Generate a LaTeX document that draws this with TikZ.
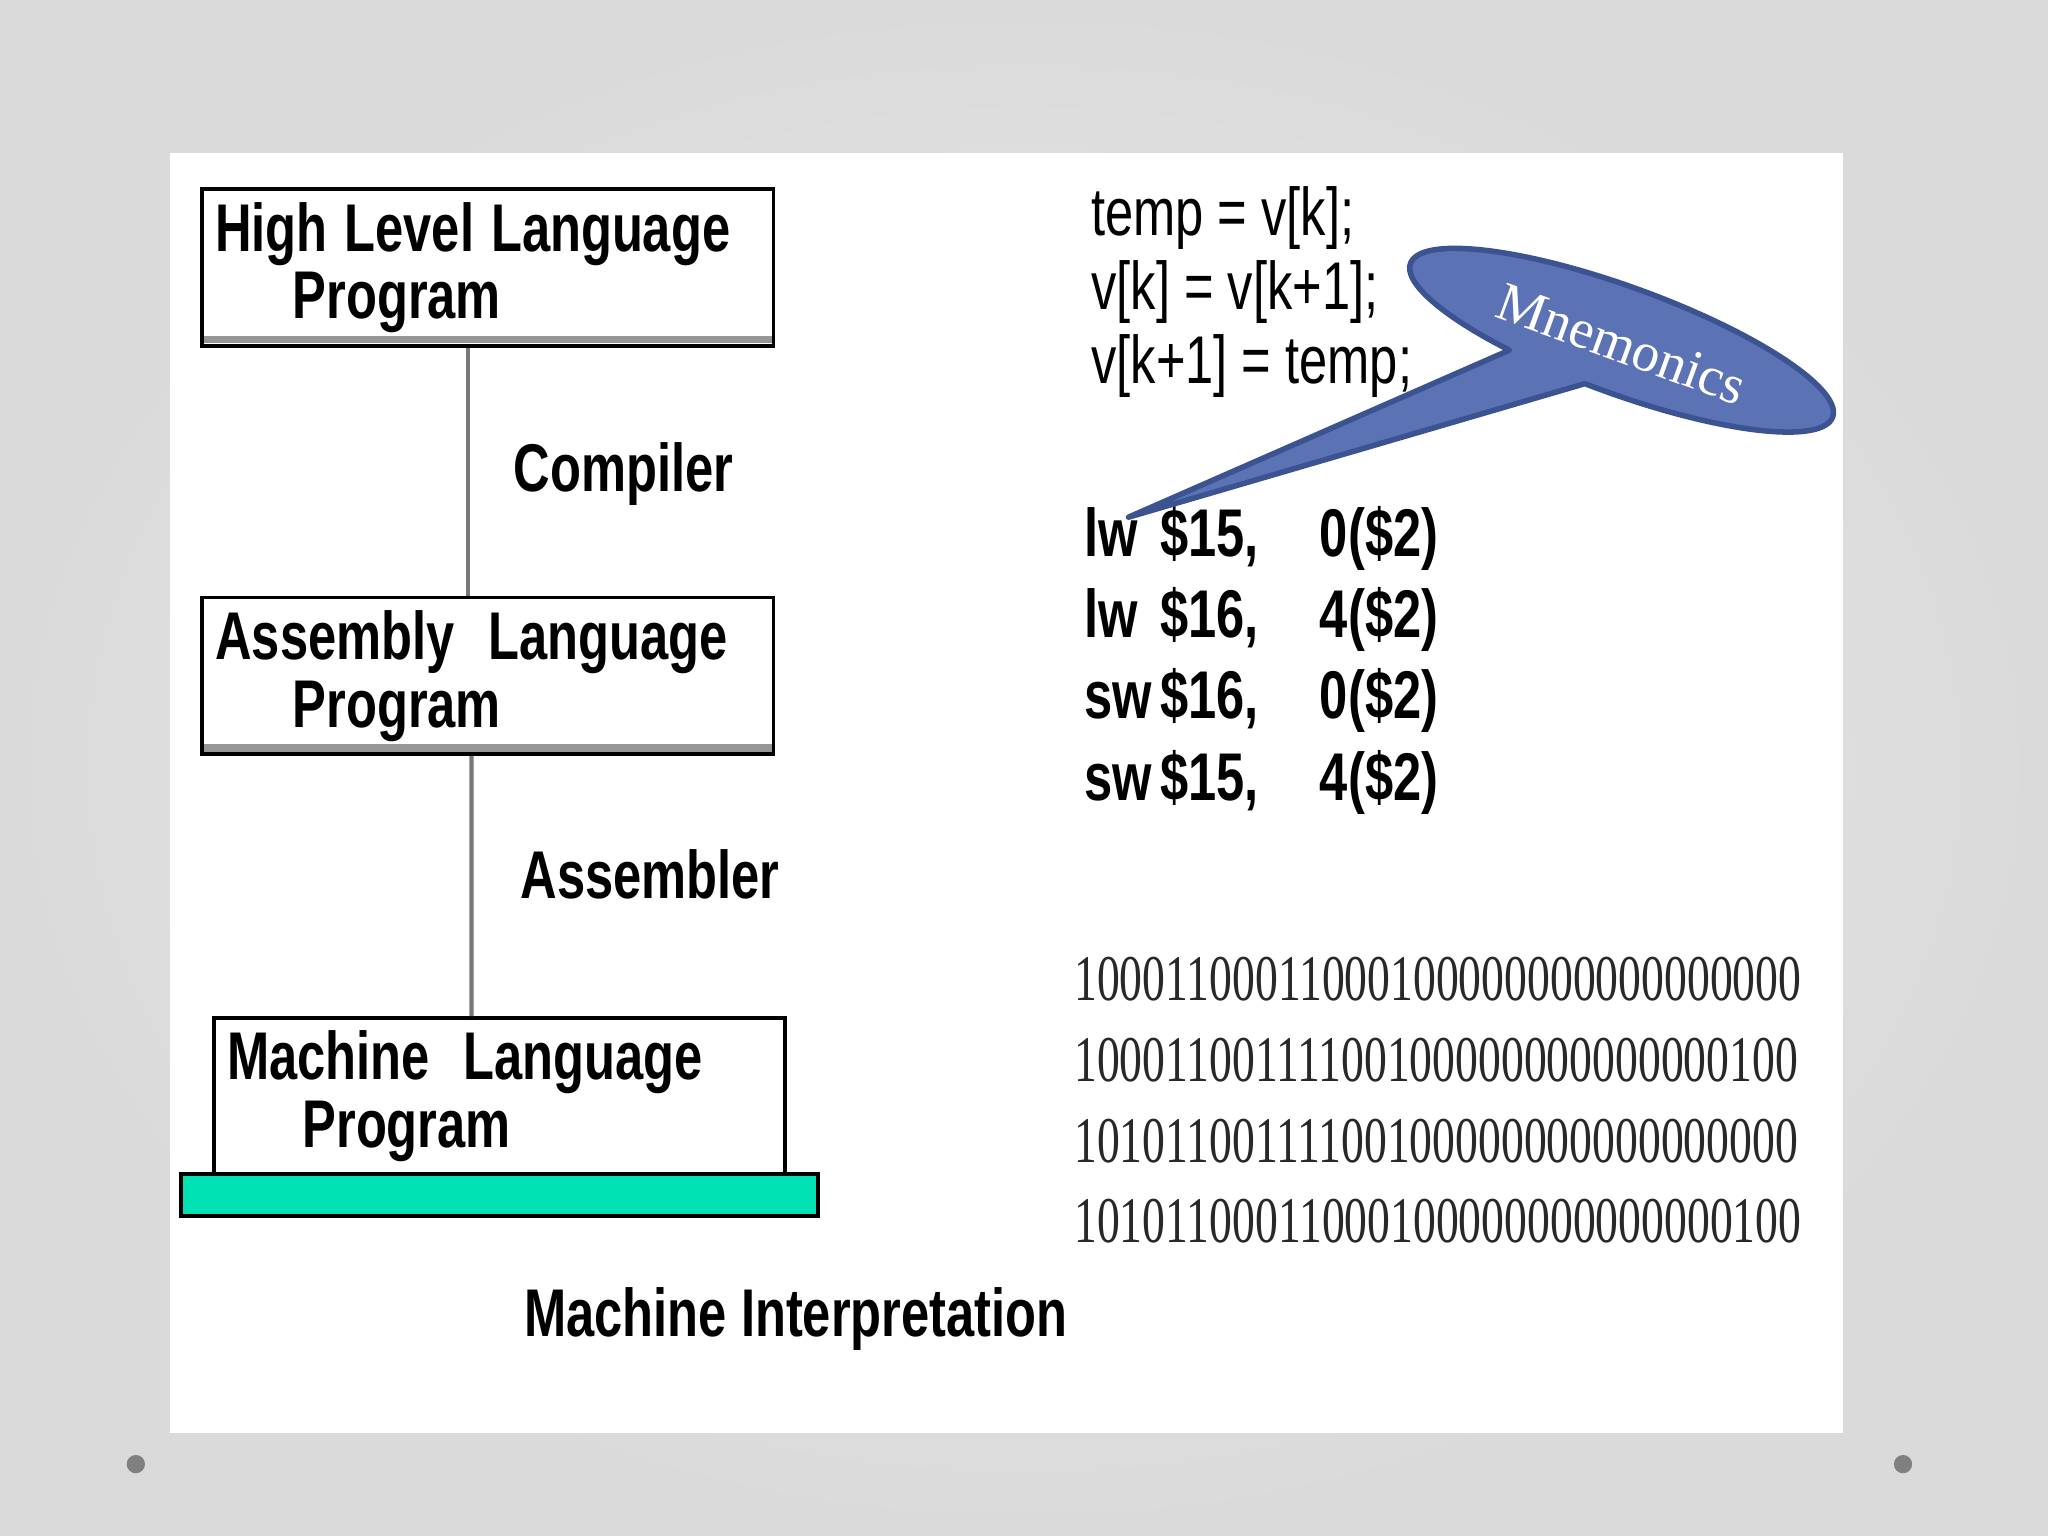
\documentclass[tikz,border=0pt]{standalone}
\usepackage{fontspec}
\setmainfont{Liberation Sans}
\newfontfamily\serifface{Liberation Serif}
\definecolor{slidelight}{RGB}{236,236,236}
\definecolor{slidedark}{RGB}{218,218,218}
\definecolor{dotgray}{RGB}{128,128,128}
\definecolor{linkgray}{RGB}{120,120,120}
\definecolor{shadegray}{RGB}{150,150,150}
\definecolor{termgreen}{RGB}{0,226,180}
\definecolor{bubblefill}{RGB}{91,115,181}
\definecolor{bubbleline}{RGB}{60,83,145}
\definecolor{bindark}{RGB}{40,40,40}
\usetikzlibrary{positioning}

\begin{document}
\begin{tikzpicture}[x=0.01cm, y=0.01cm,
    progbox/.style={draw=black, line width=0.8pt, fill=white, xscale=0.75,
        minimum width=5.83cm, minimum height=1.2cm, text width=5.56cm,
        inner xsep=0.133cm, inner ysep=0pt, align=left,
        font=\fontsize{14.7}{14.75}\selectfont\bfseries},
    shadedbox/.style={progbox,
        path picture={\draw[shadegray, line width=1.6pt]
            ([yshift=1.4pt]path picture bounding box.south west) --
            ([yshift=1.4pt]path picture bounding box.south east);}},
    termbar/.style={draw=black, line width=0.9pt, fill=termgreen,
        minimum width=4.87cm, minimum height=0.32cm, inner sep=0pt},
    link/.style={draw=linkgray, line width=0.9pt},
    tag/.style={font=\fontsize{14.7}{14.75}\selectfont\bfseries, xscale=0.75,
        inner sep=0pt, anchor=base west},
    hlcode/.style={font=\fontsize{14.7}{14.75}\selectfont, xscale=0.75,
        inner sep=0pt, anchor=base west},
    asmcode/.style={hlcode, font=\fontsize{14.7}{14.75}\selectfont\bfseries},
    bincode/.style={font=\serifface\fontsize{14.2}{15}\selectfont, text=bindark,
        xscale=0.70, inner sep=0pt, anchor=base west},
    bubble/.style={fill=bubblefill, draw=bubbleline, line width=1.2pt, line join=round},
    bubbletext/.style={font=\serifface\fontsize{12}{14}\selectfont, text=white, inner sep=0pt}]

    \useasboundingbox (0,0) rectangle (1568,1176);
    \shade[inner color=slidelight, outer color=slidedark] (0,0) rectangle (1568,1176);
    \fill[white] (130,79) rectangle (1411,1059);
    \fill[dotgray] (104,55) circle[radius=7];
    \fill[dotgray] (1457,55) circle[radius=7];

    \node[shadedbox] (hll) at (373.5,971) {High Level Language\\\hspace*{0.79cm}Program};
    \node[shadedbox] (asm) at (373.5,658.5) {Assembly\ \ Language\\\hspace*{0.79cm}Program};
    \node[progbox] (mlp) at (382.5,336.5) {Machine\ \ Language\\\hspace*{0.77cm}Program};
    \node[termbar, below=-1pt of mlp] (bar) {};

    \draw[link] ([xshift=-0.155cm]hll.south) -- ([xshift=-0.155cm]asm.north);
    \draw[link] ([xshift=-0.125cm]asm.south) -- ([xshift=-0.215cm]mlp.north);

    \node[tag] (compiler) at (393,800) {Compiler};
    \node[tag] (assembler) at (398,488) {Assembler};
    \node[tag] (interp) at (401,153) {Machine Interpretation};

    \node[hlcode] (hl1) at (835,996) {temp = v[k];};
    \node[hlcode] (hl2) at (835,939) {v[k] = v[k+1];};
    \node[hlcode] (hl3) at (835,882) {v[k+1] = temp;};

    \node[asmcode] (asm1) at (830,750) {\makebox[0.773cm][l]{lw}\makebox[1.627cm][l]{\$15,}0(\$2)};
    \node[asmcode] (asm2) at (830,688) {\makebox[0.773cm][l]{lw}\makebox[1.627cm][l]{\$16,}4(\$2)};
    \node[asmcode] (asm3) at (830,626) {\makebox[0.773cm][l]{sw}\makebox[1.627cm][l]{\$16,}0(\$2)};
    \node[asmcode] (asm4) at (830,563) {\makebox[0.773cm][l]{sw}\makebox[1.627cm][l]{\$15,}4(\$2)};

    \node[bincode] (bin1) at (822,410) {10001100011000100000000000000000};
    \node[bincode] (bin2) at (822,348) {10001100111100100000000000000100};
    \node[bincode] (bin3) at (822,286) {10101100111100100000000000000000};
    \node[bincode] (bin4) at (822,225) {10101100011000100000000000000100};

    \coordinate (tip) at (864,780);
    \begin{scope}[shift={(1241.5,915.5)}, rotate=-20]
        \draw[bubble] (265:172 and 41) arc[start angle=265, end angle=603, x radius=172, y radius=41]
            -- (tip) -- cycle;
    \end{scope}
    \node[bubbletext, rotate=-20] (mnemo) at (1241.5,912.5) {Mnemonics};
\end{tikzpicture}
\end{document}
